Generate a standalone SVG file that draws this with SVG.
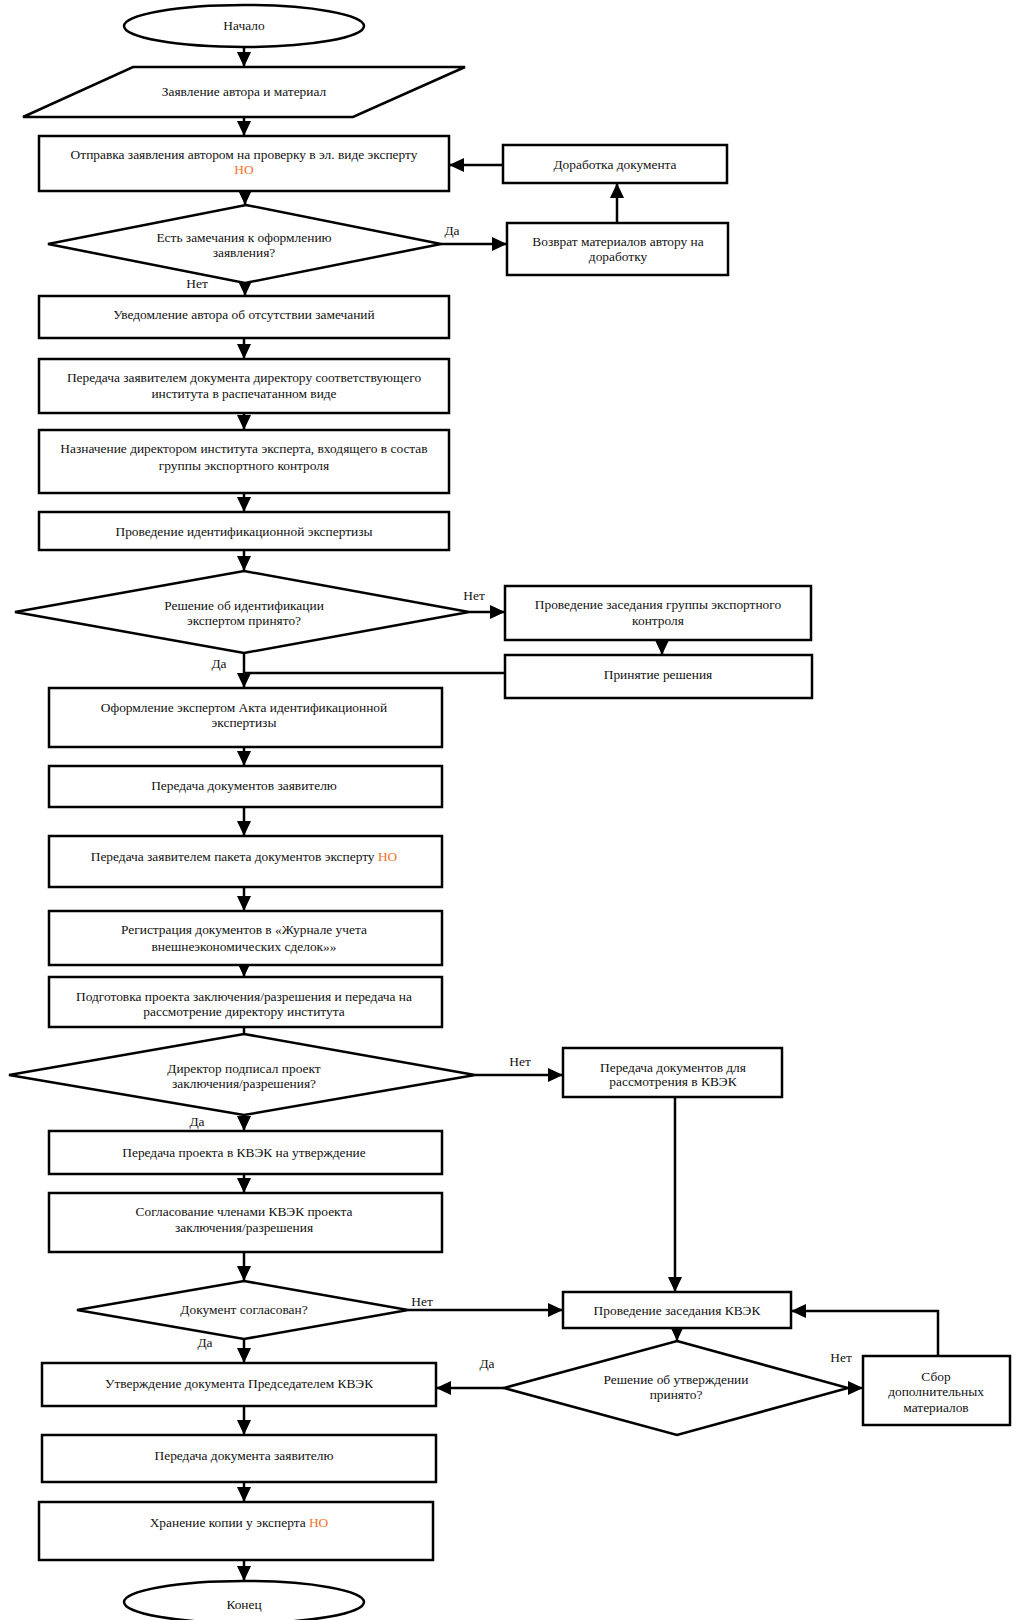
<svg xmlns="http://www.w3.org/2000/svg" width="1016" height="1620" viewBox="0 0 1016 1620">
<defs>
<marker id="ah" markerUnits="userSpaceOnUse" markerWidth="15" markerHeight="14" refX="15" refY="7" orient="auto">
<path d="M0,0 L15,7 L0,14 Z" fill="#000"/>
</marker>
<style>
.s{fill:#fff;stroke:#000;stroke-width:2.5}
.t{font-family:"Liberation Serif","Times New Roman",serif;font-size:13.4px;fill:#111;text-anchor:middle}
.o{fill:#f4731f}
.c{fill:none;stroke:#000;stroke-width:2.5}
.a{marker-end:url(#ah)}
</style>
</defs>
<rect width="1016" height="1620" fill="#fff"/>

<g id="connectors">
<line class="c a" x1="244" y1="48" x2="244" y2="67"/>
<line class="c a" x1="244" y1="117" x2="244" y2="136"/>
<line class="c a" x1="245" y1="191" x2="245" y2="205"/>
<line class="c a" x1="503" y1="165" x2="449" y2="165"/>
<line class="c a" x1="617" y1="223" x2="617" y2="183"/>
<line class="c a" x1="441" y1="244" x2="507" y2="244"/>
<text class="t" x="452" y="235">Да</text>
<line class="c a" x1="245" y1="283" x2="245" y2="296"/>
<text class="t" x="197" y="288">Нет</text>
<line class="c a" x1="244" y1="338" x2="244" y2="359"/>
<line class="c a" x1="244" y1="413" x2="244" y2="430"/>
<line class="c a" x1="244" y1="493" x2="244" y2="512"/>
<line class="c a" x1="244" y1="550" x2="244" y2="571"/>
<line class="c a" x1="469" y1="612" x2="505" y2="612"/>
<text class="t" x="474" y="600">Нет</text>
<line class="c a" x1="662" y1="640" x2="662" y2="655"/>
<line class="c a" x1="244" y1="653" x2="244" y2="688"/>
<line class="c" x1="505" y1="673" x2="244" y2="673"/>
<text class="t" x="219" y="668">Да</text>
<line class="c a" x1="244" y1="747" x2="244" y2="766"/>
<line class="c a" x1="244" y1="807" x2="244" y2="836"/>
<line class="c a" x1="244" y1="887" x2="244" y2="911"/>
<line class="c a" x1="244" y1="965" x2="244" y2="977"/>
<line class="c" x1="244" y1="1027" x2="244" y2="1034"/>
<line class="c a" x1="475" y1="1075" x2="563" y2="1075"/>
<text class="t" x="520" y="1066">Нет</text>
<line class="c a" x1="675" y1="1097" x2="675" y2="1292"/>
<line class="c a" x1="244" y1="1115" x2="244" y2="1131"/>
<text class="t" x="197" y="1126">Да</text>
<line class="c a" x1="244" y1="1174" x2="244" y2="1193"/>
<line class="c a" x1="244" y1="1252" x2="244" y2="1281"/>
<line class="c a" x1="408" y1="1310" x2="563" y2="1310"/>
<text class="t" x="422" y="1306">Нет</text>
<line class="c a" x1="244" y1="1339" x2="244" y2="1363"/>
<text class="t" x="205" y="1347">Да</text>
<polyline class="c a" points="938,1356 938,1311 791,1311"/>
<line class="c a" x1="677" y1="1328" x2="677" y2="1341"/>
<line class="c a" x1="848" y1="1388" x2="863" y2="1388"/>
<text class="t" x="841" y="1362">Нет</text>
<line class="c a" x1="504" y1="1388" x2="436" y2="1388"/>
<text class="t" x="487" y="1368">Да</text>
<line class="c a" x1="244" y1="1406" x2="244" y2="1435"/>
<line class="c a" x1="244" y1="1482" x2="244" y2="1502"/>
<line class="c a" x1="244" y1="1560" x2="244" y2="1581"/>
</g>

<g id="start"><ellipse class="s" cx="244" cy="26" rx="120" ry="21"/><text class="t" x="244" y="30">Начало</text></g>
<g id="input"><polygon class="s" points="133,67 465,67 353,117 23,117"/><text class="t" x="244" y="96">Заявление автора и материал</text></g>
<g id="send"><rect class="s" x="39" y="136" width="410" height="55"/><text class="t" x="244" y="159">Отправка заявления автором на проверку в эл. виде эксперту</text><text class="t o" x="244" y="174">НО</text></g>
<g id="dec1"><polygon class="s" points="246,205 441,244 245,283 48,244"/><text class="t" x="244" y="242">Есть замечания к оформлению</text><text class="t" x="244" y="257">заявления?</text></g>
<g id="return"><rect class="s" x="507" y="223" width="221" height="52"/><text class="t" x="618" y="246">Возврат материалов автору на</text><text class="t" x="618" y="261">доработку</text></g>
<g id="rework"><rect class="s" x="503" y="145" width="224" height="38"/><text class="t" x="615" y="169">Доработка документа</text></g>
<g id="notify"><rect class="s" x="39" y="296" width="410" height="42"/><text class="t" x="244" y="319">Уведомление автора об отсутствии замечаний</text></g>
<g id="transfer"><rect class="s" x="39" y="359" width="410" height="54"/><text class="t" x="244" y="382">Передача заявителем документа директору соответствующего</text><text class="t" x="244" y="398">института в распечатанном виде</text></g>
<g id="assign"><rect class="s" x="39" y="430" width="410" height="63"/><text class="t" x="244" y="453">Назначение директором института эксперта, входящего в состав</text><text class="t" x="244" y="470">группы экспортного контроля</text></g>
<g id="expertise"><rect class="s" x="39" y="512" width="410" height="38"/><text class="t" x="244" y="536">Проведение идентификационной экспертизы</text></g>
<g id="dec2"><polygon class="s" points="244,571 469,612 244,653 15,612"/><text class="t" x="244" y="610">Решение об идентификации</text><text class="t" x="244" y="625">экспертом принято?</text></g>
<g id="group"><rect class="s" x="505" y="586" width="306" height="54"/><text class="t" x="658" y="609">Проведение заседания группы экспортного</text><text class="t" x="658" y="625">контроля</text></g>
<g id="decision"><rect class="s" x="505" y="655" width="307" height="43"/><text class="t" x="658" y="679">Принятие решения</text></g>
<g id="act"><rect class="s" x="49" y="688" width="393" height="59"/><text class="t" x="244" y="712">Оформление экспертом Акта идентификационной</text><text class="t" x="244" y="727">экспертизы</text></g>
<g id="deliver"><rect class="s" x="49" y="766" width="393" height="41"/><text class="t" x="244" y="790">Передача документов заявителю</text></g>
<g id="package"><rect class="s" x="49" y="836" width="393" height="51"/><text class="t" x="244" y="861">Передача заявителем пакета документов эксперту <tspan class="o">НО</tspan></text></g>
<g id="register"><rect class="s" x="49" y="911" width="393" height="54"/><text class="t" x="244" y="934">Регистрация документов в «Журнале учета</text><text class="t" x="244" y="951">внешнеэкономических сделок»»</text></g>
<g id="prepare"><rect class="s" x="49" y="977" width="393" height="50"/><text class="t" x="244" y="1001">Подготовка проекта заключения/разрешения и передача на</text><text class="t" x="244" y="1016">рассмотрение директору института</text></g>
<g id="dec3"><polygon class="s" points="244,1034 475,1075 244,1115 9,1075"/><text class="t" x="244" y="1073">Директор подписал проект</text><text class="t" x="244" y="1088">заключения/разрешения?</text></g>
<g id="kvek-send"><rect class="s" x="563" y="1048" width="219" height="49"/><text class="t" x="673" y="1072">Передача документов для</text><text class="t" x="673" y="1086">рассмотрения в КВЭК</text></g>
<g id="approve-send"><rect class="s" x="49" y="1131" width="393" height="43"/><text class="t" x="244" y="1157">Передача проекта в КВЭК на утверждение</text></g>
<g id="agree"><rect class="s" x="49" y="1193" width="393" height="59"/><text class="t" x="244" y="1216">Согласование членами КВЭК проекта</text><text class="t" x="244" y="1232">заключения/разрешения</text></g>
<g id="dec4"><polygon class="s" points="244,1281 408,1310 244,1339 77,1310"/><text class="t" x="244" y="1314">Документ согласован?</text></g>
<g id="meeting"><rect class="s" x="563" y="1292" width="228" height="36"/><text class="t" x="677" y="1315">Проведение заседания КВЭК</text></g>
<g id="dec5"><polygon class="s" points="677,1341 848,1388 677,1435 504,1388"/><text class="t" x="676" y="1384">Решение об утверждении</text><text class="t" x="676" y="1399">принято?</text></g>
<g id="collect"><rect class="s" x="863" y="1356" width="147" height="69"/><text class="t" x="936" y="1381">Сбор</text><text class="t" x="936" y="1396">дополнительных</text><text class="t" x="936" y="1412">материалов</text></g>
<g id="approve"><rect class="s" x="42" y="1363" width="394" height="43"/><text class="t" x="239" y="1388">Утверждение документа Председателем КВЭК</text></g>
<g id="give"><rect class="s" x="42" y="1435" width="394" height="47"/><text class="t" x="244" y="1460">Передача документа заявителю</text></g>
<g id="store"><rect class="s" x="39" y="1502" width="394" height="58"/><text class="t" x="239" y="1527">Хранение копии у эксперта <tspan class="o">НО</tspan></text></g>
<g id="end"><ellipse class="s" cx="244" cy="1602" rx="120" ry="21"/><text class="t" x="244" y="1609">Конец</text></g>
</svg>
